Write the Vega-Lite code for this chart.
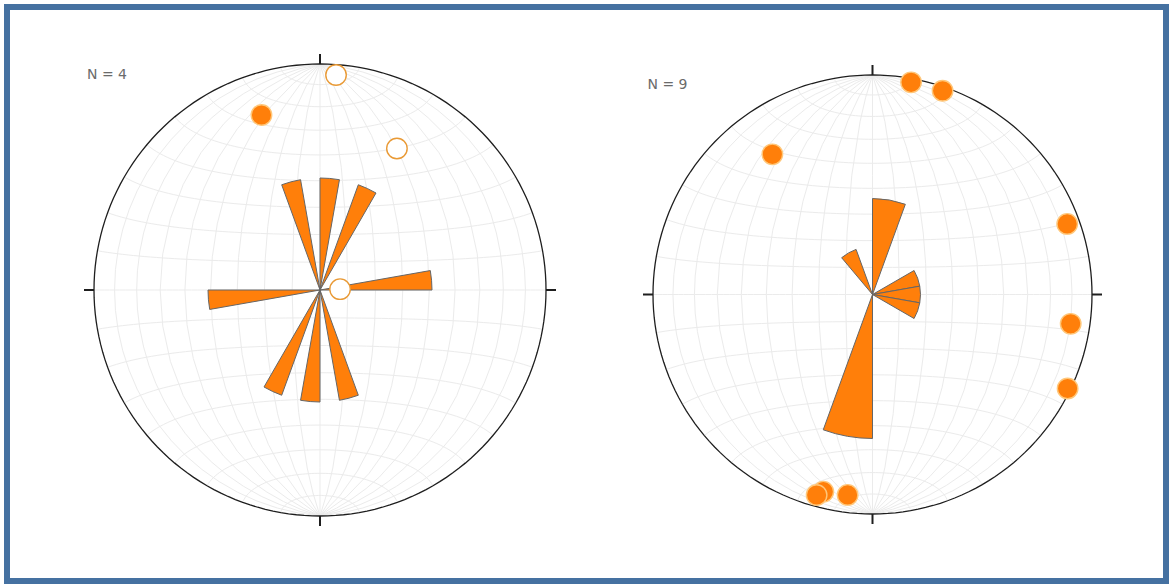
{
  "$schema": "https://vega.github.io/schema/vega-lite/v6.json",
  "width": 1159,
  "height": 574,
  "autosize": {"type": "none"},
  "padding": {"left": 7, "top": 7, "right": 6, "bottom": 5},
  "background": "white",
  "view": {"stroke": "#4571a1", "strokeWidth": 6, "fill": "white"},
  "resolve": {"scale": {"radius": "independent"}},
  "layer": [
    {
      "projection": {"type": "azimuthalEqualArea", "scale": 159.81, "translate": [313, 283], "clipAngle": 90, "precision": 0.75},
      "data": {"graticule": {"step": [10, 10]}},
      "mark": {"type": "geoshape", "filled": false, "stroke": "#ebebeb", "strokeWidth": 1}
    },
    {
      "projection": {"type": "azimuthalEqualArea", "scale": 155.21, "translate": [865.5, 287.5], "clipAngle": 90, "precision": 0.7},
      "data": {"graticule": {"step": [10, 10]}},
      "mark": {"type": "geoshape", "filled": false, "stroke": "#ebebeb", "strokeWidth": 1}
    },
    {
      "projection": {"type": "azimuthalEqualArea", "scale": 159.81, "translate": [313, 283], "clipAngle": 90, "precision": 0.75},
      "data": {"sphere": true},
      "mark": {"type": "geoshape", "filled": false, "stroke": "#1e1e1e", "strokeWidth": 1.3}
    },
    {
      "projection": {"type": "azimuthalEqualArea", "scale": 155.21, "translate": [865.5, 287.5], "clipAngle": 90, "precision": 0.7},
      "data": {"sphere": true},
      "mark": {"type": "geoshape", "filled": false, "stroke": "#1e1e1e", "strokeWidth": 1.3}
    },
    {
      "projection": {"type": "azimuthalEqualArea", "scale": 159.81, "translate": [313, 283], "clipAngle": 90, "precision": 0.75},
      "data": {"values": [
        {"dir": "N", "lon": 0, "lat": 90},
        {"dir": "S", "lon": 0, "lat": -90},
        {"dir": "E", "lon": 90, "lat": 0},
        {"dir": "W", "lon": -90, "lat": 0}
      ]},
      "mark": {"type": "point", "filled": false, "stroke": "#1e1e1e", "strokeWidth": 2, "size": 400, "opacity": 1},
      "encoding": {
        "longitude": {"field": "lon", "type": "quantitative"},
        "latitude": {"field": "lat", "type": "quantitative"},
        "shape": {"field": "dir", "type": "nominal", "scale": {"domain": ["N", "S", "E", "W"], "range": ["M0,0V-1", "M0,0V1", "M0,0H1", "M0,0H-1"]}, "legend": null}
      }
    },
    {
      "projection": {"type": "azimuthalEqualArea", "scale": 155.21, "translate": [865.5, 287.5], "clipAngle": 90, "precision": 0.7},
      "data": {"values": [
        {"dir": "N", "lon": 0, "lat": 90},
        {"dir": "S", "lon": 0, "lat": -90},
        {"dir": "E", "lon": 90, "lat": 0},
        {"dir": "W", "lon": -90, "lat": 0}
      ]},
      "mark": {"type": "point", "filled": false, "stroke": "#1e1e1e", "strokeWidth": 2, "size": 400, "opacity": 1},
      "encoding": {
        "longitude": {"field": "lon", "type": "quantitative"},
        "latitude": {"field": "lat", "type": "quantitative"},
        "shape": {"field": "dir", "type": "nominal", "scale": {"domain": ["N", "S", "E", "W"], "range": ["M0,0V-1", "M0,0V1", "M0,0H1", "M0,0H-1"]}, "legend": null}
      }
    },
    {
      "projection": {"type": "azimuthalEqualArea", "scale": 159.81, "translate": [313, 283], "clipAngle": 90, "precision": 0.75},
      "data": {"values": [
        {"from": 340, "to": 350, "count": 1},
        {"from": 0, "to": 10, "count": 1},
        {"from": 20, "to": 30, "count": 1},
        {"from": 80, "to": 90, "count": 1},
        {"from": 260, "to": 270, "count": 1},
        {"from": 200, "to": 210, "count": 1},
        {"from": 180, "to": 190, "count": 1},
        {"from": 160, "to": 170, "count": 1}
      ]},
      "mark": {"type": "arc", "fill": "#ff7f0a", "stroke": "#666666", "strokeWidth": 1},
      "encoding": {
        "longitude": {"datum": 0},
        "latitude": {"datum": 0},
        "theta": {"field": "from", "type": "quantitative", "scale": {"domain": [0, 360], "nice": false}},
        "theta2": {"field": "to"},
        "radius": {"field": "count", "type": "quantitative", "scale": {"type": "linear", "domain": [0, 1], "range": [0, 112], "nice": false, "zero": true}}
      }
    },
    {
      "projection": {"type": "azimuthalEqualArea", "scale": 155.21, "translate": [865.5, 287.5], "clipAngle": 90, "precision": 0.7},
      "data": {"values": [
        {"from": 320, "to": 340, "count": 1},
        {"from": 0, "to": 20, "count": 2},
        {"from": 60, "to": 80, "count": 1},
        {"from": 80, "to": 100, "count": 1},
        {"from": 100, "to": 120, "count": 1},
        {"from": 180, "to": 200, "count": 3}
      ]},
      "mark": {"type": "arc", "fill": "#ff7f0a", "stroke": "#666666", "strokeWidth": 1},
      "encoding": {
        "longitude": {"datum": 0},
        "latitude": {"datum": 0},
        "theta": {"field": "from", "type": "quantitative", "scale": {"domain": [0, 360], "nice": false}},
        "theta2": {"field": "to"},
        "radius": {"field": "count", "type": "quantitative", "scale": {"type": "linear", "domain": [0, 3], "range": [0, 144], "nice": false, "zero": true}}
      }
    },
    {
      "projection": {"type": "azimuthalEqualArea", "scale": 159.81, "translate": [313, 283], "clipAngle": 90, "precision": 0.75},
      "data": {"values": [
        {"kind": "filled", "lon": -41.9, "lat": 63.4},
        {"kind": "open", "lon": 39.4, "lat": 83.3},
        {"kind": "open", "lon": 40.2, "lat": 49.9},
        {"kind": "open", "lon": 7.2, "lat": 0.3}
      ]},
      "mark": {"type": "circle", "size": 420, "opacity": 1, "strokeWidth": 1.4},
      "encoding": {
        "longitude": {"field": "lon", "type": "quantitative"},
        "latitude": {"field": "lat", "type": "quantitative"},
        "fill": {"field": "kind", "type": "nominal", "scale": {"domain": ["filled", "open"], "range": ["#ff7f0a", "#ffffff"]}, "legend": null},
        "stroke": {"field": "kind", "type": "nominal", "scale": {"domain": ["filled", "open"], "range": ["#ffc77a", "#e99a36"]}, "legend": null}
      }
    },
    {
      "projection": {"type": "azimuthalEqualArea", "scale": 155.21, "translate": [865.5, 287.5], "clipAngle": 90, "precision": 0.7},
      "data": {"values": [
        {"kind": "filled", "lon": 78.9, "lat": 79.5},
        {"kind": "filled", "lon": 83.6, "lat": 70.9},
        {"kind": "filled", "lon": -54.4, "lat": 48.7},
        {"kind": "filled", "lon": 83.3, "lat": 19.8},
        {"kind": "filled", "lon": 80.3, "lat": -8.3},
        {"kind": "filled", "lon": 88.3, "lat": -25.7},
        {"kind": "filled", "lon": -59.2, "lat": -73.8},
        {"kind": "filled", "lon": -69.2, "lat": -73.4},
        {"kind": "filled", "lon": -38.4, "lat": -78.7}
      ]},
      "mark": {"type": "circle", "size": 420, "opacity": 1, "strokeWidth": 1.4},
      "encoding": {
        "longitude": {"field": "lon", "type": "quantitative"},
        "latitude": {"field": "lat", "type": "quantitative"},
        "fill": {"field": "kind", "type": "nominal", "scale": {"domain": ["filled", "open"], "range": ["#ff7f0a", "#ffffff"]}, "legend": null},
        "stroke": {"field": "kind", "type": "nominal", "scale": {"domain": ["filled", "open"], "range": ["#ffc77a", "#e99a36"]}, "legend": null}
      }
    },
    {
      "projection": {"type": "azimuthalEqualArea", "scale": 159.81, "translate": [313, 283], "clipAngle": 90, "precision": 0.75},
      "data": {"values": [{"label": "N = 4", "lon": 0, "lat": 90}]},
      "mark": {"type": "text", "align": "left", "baseline": "alphabetic", "dx": -233, "dy": 15.3, "font": "DejaVu Sans", "fontSize": 14, "color": "#6b6b6b"},
      "encoding": {
        "longitude": {"field": "lon", "type": "quantitative"},
        "latitude": {"field": "lat", "type": "quantitative"},
        "text": {"field": "label"}
      }
    },
    {
      "projection": {"type": "azimuthalEqualArea", "scale": 155.21, "translate": [865.5, 287.5], "clipAngle": 90, "precision": 0.7},
      "data": {"values": [{"label": "N = 9", "lon": 0, "lat": 90}]},
      "mark": {"type": "text", "align": "left", "baseline": "alphabetic", "dx": -225, "dy": 14.3, "font": "DejaVu Sans", "fontSize": 14, "color": "#6b6b6b"},
      "encoding": {
        "longitude": {"field": "lon", "type": "quantitative"},
        "latitude": {"field": "lat", "type": "quantitative"},
        "text": {"field": "label"}
      }
    }
  ]
}
